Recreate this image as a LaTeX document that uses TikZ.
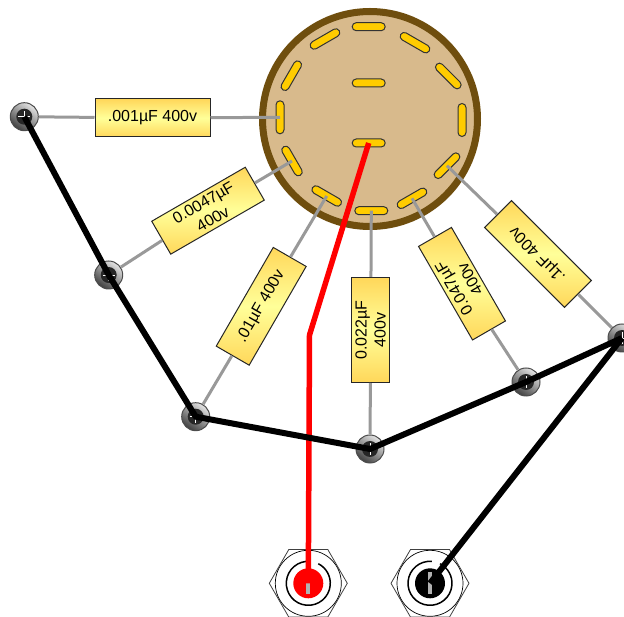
\documentclass[tikz,border=0pt]{standalone}
\usepackage{fontspec}
\setmainfont{Liberation Sans}
\usetikzlibrary{shapes.geometric}
\definecolor{tubefill}{HTML}{D8BA8C}
\definecolor{tubeedge}{HTML}{6F4E0E}
\definecolor{pinfill}{HTML}{FFCC00}
\definecolor{capedge}{HTML}{FFD75A}
\definecolor{capmid}{HTML}{FFFF99}
\definecolor{wiregray}{HTML}{999999}
\tikzset{
  pinslot/.style={draw=black!80, line width=1pt, fill=pinfill, rounded corners=4pt,
    minimum width=33pt, minimum height=8pt, inner sep=0pt},
  capbox/.style={draw=black!85, line width=1pt, top color=capedge, bottom color=capedge,
    middle color=capmid, minimum height=38pt, inner sep=0pt, align=center,
    font=\fontsize{16}{19}\selectfont},
  screw/.style={circle, draw=black!70, line width=1pt, minimum size=28pt, inner sep=0pt,
    top color=gray!20, bottom color=black!75, shading angle=-35,
    path picture={
      \fill[black!85] (path picture bounding box.center) circle (8pt);
      \draw[white, line width=0.8pt] ([xshift=-6pt]path picture bounding box.center) -- ([xshift=6pt]path picture bounding box.center);
      \draw[white, line width=0.8pt] ([yshift=-6pt]path picture bounding box.center) -- ([yshift=6pt]path picture bounding box.center);
    }},
  jack/.style={regular polygon, regular polygon sides=6, draw=black!75, line width=0.8pt,
    fill=white, minimum size=78pt, inner sep=0pt,
    path picture={
      \draw[black, line width=0.7pt] (path picture bounding box.center) circle (33pt);
      \draw[black, line width=1.5pt] ([shift={(85:22pt)}]path picture bounding box.center) arc (85:423:22pt);
      \fill[#1] (path picture bounding box.center) circle (15pt);
      \fill[gray!60] ([shift={(-2.5pt,-11pt)}]path picture bounding box.center) rectangle ([shift={(1.5pt,11pt)}]path picture bounding box.center);
    }},
  graywire/.style={draw=wiregray, line width=3pt},
  hookup/.style={line width=6pt, line join=round}
}
\begin{document}
\begin{tikzpicture}[x=1pt, y=1pt]
  \useasboundingbox (0,0) rectangle (624,616);

  % Tube base
  \node[circle, draw=tubeedge, line width=7pt, fill=tubefill, minimum size=215pt, inner sep=0pt] (tube) at (370,497) {};

  % Socket pins
  \foreach \name/\x/\y/\ang in {pinTop/368.7/589.3/0, pinB/325/577/30, pinC/291.3/540.3/60,
      pinD/280/498.7/90, pinE/292/455/-60, pinF/326.7/420/-30, pinG/371.3/405.3/0,
      pinH/412/417.7/30, pinI/447/450.3/45, pinJ/462/496/90, pinK/448.3/540/-45,
      pinL/415/573.3/-30, pinMid/368.7/533/0, pinLow/368.7/473/0}
    \node[pinslot, rotate=\ang] (\name) at (\x,\y) {};

  % Capacitors
  \node[capbox, minimum width=115pt] (capA) at (152.5,498) {.001µF 400v};
  \node[capbox, minimum width=108pt, rotate=30] (capB) at (208,405.3) {0.0047µF\\400v};
  \node[capbox, minimum width=114pt, rotate=60] (capC) at (261.2,309.7) {.01µF 400v};
  \node[capbox, minimum width=105pt, rotate=90] (capD) at (370.7,286) {0.022µF\\400v};
  \node[capbox, minimum width=108pt, rotate=120] (capE) at (462,332.3) {0.047µF\\400v};
  \node[capbox, minimum width=113pt, rotate=135] (capF) at (538,362) {.1µF 400v};

  % Screws
  \node[screw] (screwA) at (24.3,499.3) {};
  \node[screw] (screwB) at (108.7,341) {};
  \node[screw] (screwC) at (195.7,199.3) {};
  \node[screw] (screwD) at (370,167) {};
  \node[screw] (screwE) at (526,234) {};
  \node[screw] (screwF) at (622,278) {};

  % Jacks
  \node[jack=red] (jackRed) at (308.3,32.7) {};
  \node[jack=black] (jackBlack) at (430,32.7) {};

  % Gray leads
  \draw[graywire] (pinD.center) -- (capA) -- (screwA);
  \draw[graywire] (pinE.center) -- (capB) -- (screwB);
  \draw[graywire] (pinF.center) -- (capC) -- (screwC);
  \draw[graywire] (pinG.center) -- (capD) -- (screwD);
  \draw[graywire] (pinH.center) -- (capE) -- (screwE);
  \draw[graywire] (pinI.center) -- (capF) -- (screwF);

  % Hookup wire
  \coordinate (bend) at (309.5,281);
  \draw[hookup, red, line width=5.5pt] (pinLow.center) -- (bend) -- (jackRed.center);
  \draw[hookup, black] (screwA.center) -- (screwB.center) -- (screwC.center) -- (screwD.center) -- (screwE.center) -- (screwF.center);
  \draw[hookup, black] (jackBlack.center) -- (screwF.center);
\end{tikzpicture}
\end{document}
